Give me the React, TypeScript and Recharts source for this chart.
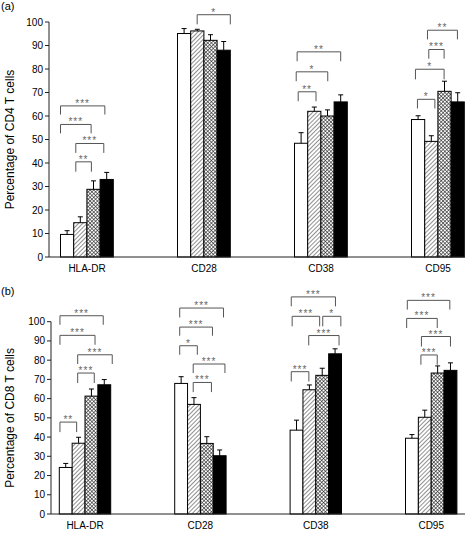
import { BarChart, Bar, XAxis, YAxis } from 'recharts'

// flow cytometry panels: CD4 (a) and CD8 (b)
const categories = ['HLA-DR', 'CD28', 'CD38', 'CD95']
const yTicks = [0, 10, 20, 30, 40, 50, 60, 70, 80, 90, 100]

const cd4Open = [9.6, 95.1, 48.4, 58.5]
const cd4Hatched = [14.6, 96.2, 62, 49.2]
const cd4Checked = [28.8, 92.2, 60, 70.5]
const cd4Solid = [33, 88, 66, 66]
const cd4OpenErr = [1.6, 2.1, 4.5, 1.6]
const cd4HatchedErr = [2.5, 0.7, 1.8, 2.4]
const cd4CheckedErr = [3.6, 2.4, 2.6, 4.3]
const cd4SolidErr = [3, 3.7, 3, 3.9]

const cd8Open = [24.2, 67.9, 43.6, 39.4]
const cd8Hatched = [36.8, 57, 64.6, 50.3]
const cd8Checked = [61.3, 36.7, 72.1, 73.3]
const cd8Solid = [67.2, 30.3, 83.3, 74.7]
const cd8OpenErr = [2.1, 3.5, 5.2, 1.9]
const cd8HatchedErr = [3.1, 3.5, 2.5, 3.7]
const cd8CheckedErr = [3.7, 3.5, 3.7, 3.7]
const cd8SolidErr = [2.7, 3, 2.6, 3.9]

// significance brackets: [category, from (bar units), to (bar units), level %, leg end %, stars]
type Bracket = [number, number, number, number, number, string]

const cd4Brackets: Bracket[] = [
  [0, 0, 3.36, 64.3, 60.6, '***'],
  [0, 0, 2.32, 56.4, 52.6, '***'],
  [0, 1.16, 3.28, 48.3, 44.3, '***'],
  [0, 1.16, 2.34, 40.5, 36.3, '**'],
  [1, 1.49, 4.0, 103.1, 99, '*'],
  [2, 0.2, 3.5, 87.3, 83.3, '**'],
  [2, 0.13, 2.52, 78.8, 74.8, '*'],
  [2, 0.28, 1.63, 70.3, 66.3, '**'],
  [3, 1.21, 3.48, 96.5, 92.6, '**'],
  [3, 1.31, 2.47, 88.3, 84.4, '***'],
  [3, 0.3, 2.47, 79.9, 75.6, '*'],
  [3, 0.45, 1.77, 67.1, 63.2, '*'],
]

const cd8Brackets: Bracket[] = [
  [0, 0.05, 3.42, 103.1, 98.4, '***'],
  [0, 0.05, 2.78, 92.9, 88, '***'],
  [0, 1.43, 4.12, 82.8, 78, '***'],
  [0, 1.43, 2.72, 73.3, 68.1, '***'],
  [0, 0.05, 1.35, 47.8, 42.6, '**'],
  [1, 0.39, 3.8, 107.1, 102.2, '***'],
  [1, 0.39, 2.94, 97.2, 92.7, '***'],
  [1, 0.39, 1.76, 87.5, 82.8, '*'],
  [1, 1.44, 3.91, 78, 73.3, '***'],
  [1, 1.44, 2.86, 68.4, 63.4, '***'],
  [2, 0.09, 3.53, 112.9, 108, '***'],
  [2, 0.16, 2.3, 102.8, 97.6, '***'],
  [2, 2.54, 3.95, 102.8, 97.6, '*'],
  [2, 1.45, 3.81, 92.8, 87.7, '***'],
  [2, 0.09, 1.46, 74, 68.9, '***'],
  [3, 0.14, 3.45, 111.1, 106.3, '***'],
  [3, 0.09, 2.47, 101.7, 96.7, '***'],
  [3, 1.24, 3.5, 92.3, 87.1, '***'],
  [3, 1.2, 2.47, 82.7, 77.6, '***'],
]

const buildRows = (
  open: number[], hatched: number[], checked: number[], solid: number[],
  openErr: number[], hatchedErr: number[], checkedErr: number[], solidErr: number[],
) =>
  categories.map((name, i) => ({
    name,
    idx: i,
    open: open[i],
    hatched: hatched[i],
    checked: checked[i],
    solid: solid[i],
    openErr: openErr[i],
    hatchedErr: hatchedErr[i],
    checkedErr: checkedErr[i],
    solidErr: solidErr[i],
  }))

const cd4Rows = buildRows(cd4Open, cd4Hatched, cd4Checked, cd4Solid, cd4OpenErr, cd4HatchedErr, cd4CheckedErr, cd4SolidErr)
const cd8Rows = buildRows(cd8Open, cd8Hatched, cd8Checked, cd8Solid, cd8OpenErr, cd8HatchedErr, cd8CheckedErr, cd8SolidErr)

const fills: Record<string, string> = {
  open: '#fff',
  hatched: 'url(#hatch)',
  checked: 'url(#check)',
  solid: '#000',
}

function makeShape(key: string, brackets?: Bracket[]) {
  return (props: any) => {
    const { x, y, width, height, payload } = props
    const v = payload[key]
    const unit = height / v
    const base = y + height
    const cx = x + width / 2
    const ey = y - payload[key + 'Err'] * unit
    const groupLeft = x - 3 * width
    const toY = (val: number) => base - val * unit
    const mine = (brackets ?? []).filter((b) => b[0] === payload.idx)
    return (
      <g>
        <rect x={x} y={y} width={width} height={height} fill={fills[key]} stroke="#000" strokeWidth={1} />
        <line x1={cx} y1={y} x2={cx} y2={ey} stroke="#000" strokeWidth={1} />
        <line x1={cx - 2.5} y1={ey} x2={cx + 2.5} y2={ey} stroke="#000" strokeWidth={1} />
        {mine.map((b, i) => {
          const x1 = groupLeft + b[1] * width
          const x2 = groupLeft + b[2] * width
          const ly = toY(b[3])
          const leg = toY(b[4])
          return (
            <g key={i}>
              <path
                d={`M${x1},${leg}V${ly}H${x2}V${leg}`}
                fill="none"
                stroke="#555"
                strokeWidth={1}
              />
              <text x={(x1 + x2) / 2} y={ly + 1} textAnchor="middle" fontSize={10} fill="#666" letterSpacing={1}>
                {b[5]}
              </text>
            </g>
          )
        })}
      </g>
    )
  }
}

const cd4Shapes = {
  open: makeShape('open'),
  hatched: makeShape('hatched'),
  checked: makeShape('checked'),
  solid: makeShape('solid', cd4Brackets),
}
const cd8Shapes = {
  open: makeShape('open'),
  hatched: makeShape('hatched'),
  checked: makeShape('checked'),
  solid: makeShape('solid', cd8Brackets),
}

const axisStroke = '#222'
const tickStyle = { fontSize: 10, fill: '#000' }

function Panel({
  rows, shapes, label, height, top, yWidth, barSize, padL, padR, xHeight,
}: {
  rows: any[]; shapes: any; label: string; height: number; top: number; yWidth: number
  barSize: number; padL: number; padR: number; xHeight: number
}) {
  return (
    <BarChart
      width={465}
      height={height}
      data={rows}
      margin={{ top, right: 0, bottom: 0, left: 0 }}
      barGap={0}
      barSize={barSize}
    >
      <XAxis
        dataKey="name"
        height={xHeight}
        padding={{ left: padL, right: padR }}
        tickLine={false}
        tickSize={0}
        tickMargin={8}
        interval={0}
        axisLine={{ stroke: axisStroke }}
        tick={tickStyle}
      />
      <YAxis
        width={yWidth}
        domain={[0, 100]}
        ticks={yTicks}
        interval={0}
        tickSize={4}
        axisLine={{ stroke: axisStroke }}
        tickLine={{ stroke: axisStroke }}
        tick={tickStyle}
        label={{
          value: label,
          angle: -90,
          position: 'insideLeft',
          offset: 10,
          style: { textAnchor: 'middle', fontSize: 12, fill: '#000' },
        }}
      />
      {['open', 'hatched', 'checked', 'solid'].map((k) => (
        <Bar key={k} dataKey={k} isAnimationActive={false} shape={shapes[k]} />
      ))}
    </BarChart>
  )
}

export default function App() {
  return (
    <div style={{ position: 'absolute', left: 0, top: 0, width: 465, height: 533, fontFamily: '"Liberation Sans", Arial, sans-serif', background: '#fff' }}>
      <svg width={0} height={0} style={{ position: 'absolute' }}>
        <defs>
          <pattern id="hatch" width={3} height={3} patternUnits="userSpaceOnUse" patternTransform="rotate(45)">
            <rect width={3} height={3} fill="#fff" />
            <line x1={0} y1={0} x2={0} y2={3} stroke="#333" strokeWidth={1.1} />
          </pattern>
          <pattern id="check" width={2.6} height={2.6} patternUnits="userSpaceOnUse" patternTransform="rotate(45)">
            <rect width={2.6} height={2.6} fill="#fff" />
            <line x1={0} y1={0} x2={0} y2={2.6} stroke="#222" strokeWidth={1.2} />
            <line x1={0} y1={0} x2={2.6} y2={0} stroke="#222" strokeWidth={1.2} />
          </pattern>
        </defs>
      </svg>
      <div style={{ position: 'absolute', left: 1, top: 1, fontSize: 11, lineHeight: 1 }}>(a)</div>
      <div style={{ position: 'absolute', left: 0, top: 0 }}>
        <Panel rows={cd4Rows} shapes={cd4Shapes} label="Percentage of CD4 T cells" height={280} top={22}
          yWidth={49} barSize={13.2} padL={-20.5} padR={-31.5} xHeight={23} />
      </div>
      <div style={{ position: 'absolute', left: 1, top: 286, fontSize: 11, lineHeight: 1 }}>(b)</div>
      <div style={{ position: 'absolute', left: 0, top: 285 }}>
        <Panel rows={cd8Rows} shapes={cd8Shapes} label="Percentage of CD8 T cells" height={248} top={36.7}
          yWidth={51} barSize={12.85} padL={-23.7} padR={-23.9} xHeight={19} />
      </div>
    </div>
  )
}
